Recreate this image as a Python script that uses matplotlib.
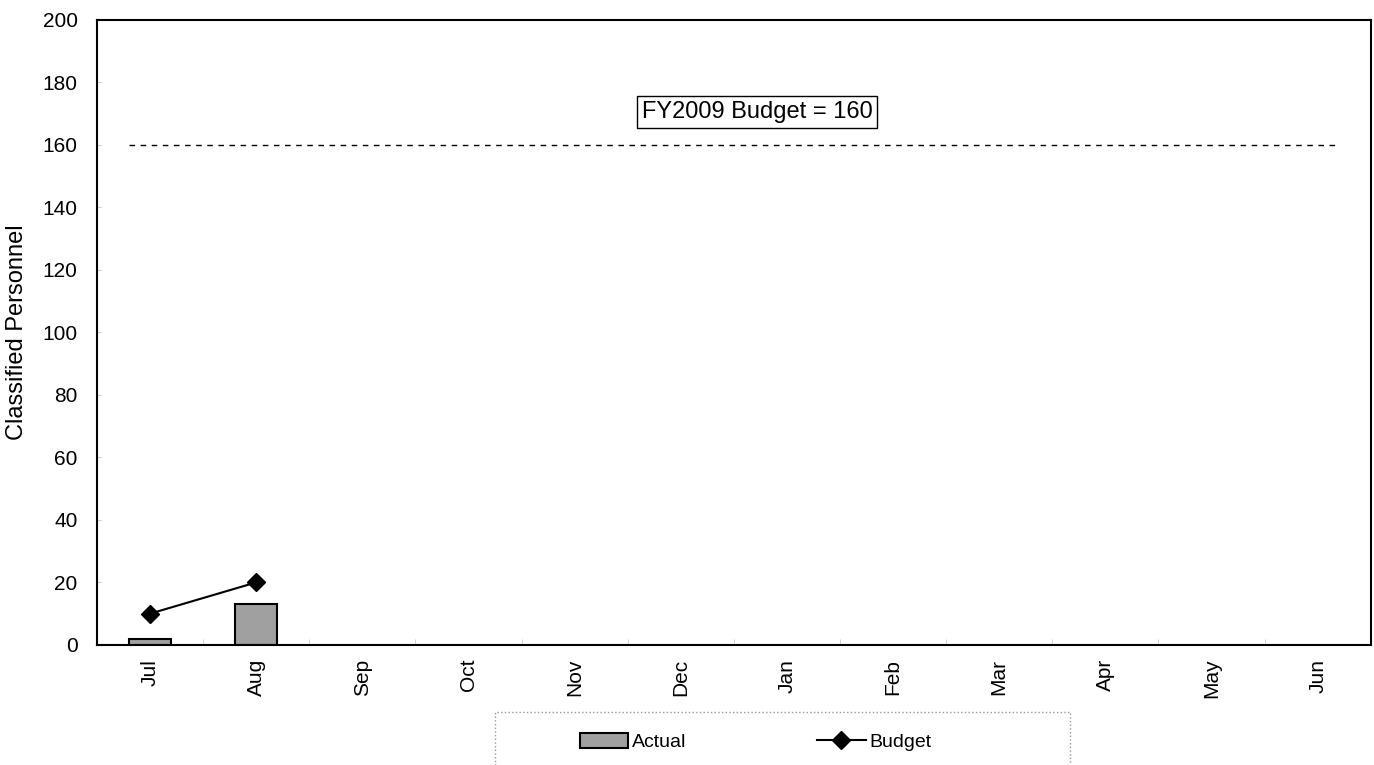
import matplotlib
matplotlib.use("Agg")
import matplotlib.pyplot as plt
from matplotlib.patches import Rectangle

plt.rcParams['font.family'] = ['Liberation Sans', 'DejaVu Sans']

months = ['Jul', 'Aug', 'Sep', 'Oct', 'Nov', 'Dec', 'Jan', 'Feb', 'Mar', 'Apr', 'May', 'Jun']
actual = [2, 13]
budget = [10, 20]
fy_budget = 160
y_ticks = [0, 20, 40, 60, 80, 100, 120, 140, 160, 180, 200]

fig = plt.figure(figsize=(13.74, 7.65), dpi=100)
ax = fig.add_axes([0.0706, 0.157, 0.927, 0.817])

x = list(range(len(months)))

# Actual bars
bars = ax.bar(x[:len(actual)], actual, width=0.4, color='#a0a0a0', edgecolor='black',
              linewidth=1.5, label='Actual', zorder=2)

# Budget line
line, = ax.plot(x[:len(budget)], budget, color='black', marker='D', markersize=9,
                linewidth=1.5, label='Budget', zorder=3)

# FY budget dashed line
ax.plot([-0.2, 11.2], [fy_budget, fy_budget], color='black', linestyle=(0, (4, 4)),
        linewidth=1)
ax.text(5.72, 170.5, f'FY2009 Budget = {fy_budget}', fontsize=17, ha='center', va='center',
        bbox=dict(boxstyle='square,pad=0.2', facecolor='white', edgecolor='black', linewidth=1))

ax.set_xlim(-0.5, len(months) - 0.5)
ax.set_ylim(0, 200)
ax.set_yticks(y_ticks)
ax.set_xticks(x)
ax.set_xticklabels(months, rotation=90, fontsize=15)
ax.set_xticks([i + 0.5 for i in x[:-1]], minor=True)
ax.tick_params(axis='x', which='minor', length=4, color='#cccccc', direction='in')
ax.tick_params(axis='y', labelsize=15, length=3, pad=14, color='#cccccc', direction='in')
ax.tick_params(axis='x', which='major', length=0, pad=10)
ax.set_ylabel('Classified Personnel', fontsize=17)
ax.yaxis.set_label_coords(-0.054, 0.5)

for s in ax.spines.values():
    s.set_linewidth(1.5)

# legend box (cut off by the bottom edge as in the scan)
fig.add_artist(Rectangle((0.360, -0.02), 0.4185, 0.089, transform=fig.transFigure,
                         fill=False, edgecolor='#999999', linestyle=':', linewidth=1,
                         clip_on=False))
fig.legend([bars, line], ['Actual', 'Budget'], loc='center', bbox_to_anchor=(0.550, 0.030),
           ncol=2, fontsize=14, frameon=False, handlelength=2.5, handletextpad=0.2,
           columnspacing=6.7, handleheight=0.8)

fig.savefig('out.png', dpi=100)
